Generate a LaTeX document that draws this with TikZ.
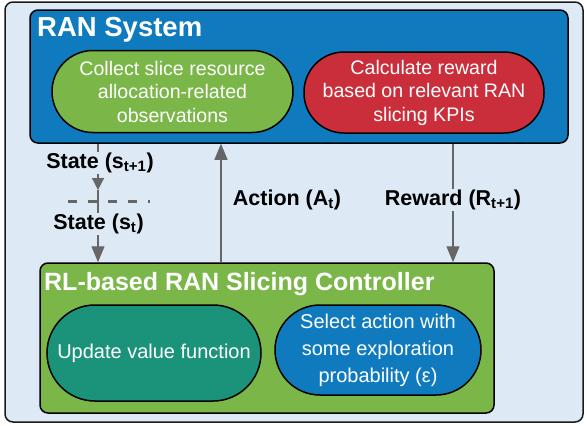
\documentclass[tikz,border=0pt]{standalone}
\usepackage{fontspec}
\setmainfont{Liberation Sans}
\usetikzlibrary{arrows.meta}
\definecolor{bgblue}{HTML}{DDE9F5}
\definecolor{ranblue}{HTML}{0F7BBE}
\definecolor{rlgreen}{HTML}{7AB648}
\definecolor{redbox}{HTML}{CB2E3B}
\definecolor{tealbox}{HTML}{1A937A}
\definecolor{arrowgray}{HTML}{666666}
\definecolor{bordergray}{HTML}{1A1A1A}
\tikzset{
  panel/.style={draw=black, line width=1.5pt, rounded corners=8pt, inner sep=0pt},
  stadium/.style={draw=black, line width=1.5pt, inner sep=0pt, align=center,
     text=white, font=\fontsize{19.6}{23.5}\selectfont},
  titletext/.style={text=white, font=\fontsize{25}{28}\selectfont\bfseries, inner sep=0pt, anchor=west},
  lbl/.style={font=\fontsize{21.5}{24}\selectfont\bfseries, inner sep=1pt, fill=bgblue},
  conn/.style={draw=arrowgray, line width=1.2pt},
  tip/.style={-{Triangle[length=16pt,width=13pt]}},
  smalltip/.style={-{Triangle[length=12pt,width=12pt]}},
}
\begin{document}
\begin{tikzpicture}[x=1pt,y=-1pt]
\useasboundingbox (0,0) rectangle (587,426);
% outer panel
\node[panel, draw=bordergray, fill=bgblue, minimum width=578pt, minimum height=420pt] (outer) at (294,212) {};
% RAN system
\node[panel, fill=ranblue, minimum width=538pt, minimum height=133pt] (ran) at (299,76.5) {};
\node[titletext, font=\fontsize{27.5}{30}\selectfont\bfseries] (rantitle) at (37,30) {RAN System};
\node[stadium, fill=rlgreen, rounded corners=41pt, minimum width=241pt, minimum height=82pt] (collect) at (172.5,91.5)
  {Collect slice resource\\allocation-related\\observations};
\node[stadium, fill=redbox, rounded corners=40pt, minimum width=240pt, minimum height=81pt] (reward) at (424,92.5)
  {Calculate reward\\based on relevant RAN\\slicing KPIs};
% RL controller
\node[panel, fill=rlgreen, minimum width=454pt, minimum height=150pt] (rl) at (267,338) {};
\node[titletext] (rltitle) at (44,284) {RL-based RAN Slicing Controller};
\node[stadium, fill=tealbox, rounded corners=48pt, minimum width=214pt, minimum height=96pt,
  font=\fontsize{20}{27}\selectfont] (update) at (154,353) {Update value function};
\node[stadium, fill=ranblue, rounded corners=45pt, minimum width=206pt, minimum height=90pt,
  font=\fontsize{20}{27}\selectfont] (select) at (378,350)
  {Select action with\\some exploration\\probability (ε)};
% coordinates
\coordinate (st1) at (98,190);
\coordinate (dl) at (68,201);
\coordinate (dr) at (150,201);
\coordinate (actx) at (221,0);
\coordinate (rewx) at (453,0);
\coordinate (stx) at (98,0);
% connectors
\draw[conn, smalltip] (ran.south -| stx) -- (st1);
\draw[conn, tip] (st1) -- (rl.north -| stx);
\draw[draw=arrowgray, line width=3pt, dash pattern=on 9pt off 11pt] (dl) -- (dr);
\draw[conn, tip] (rl.north -| actx) -- (ran.south -| actx);
\draw[conn, tip] (ran.south -| rewx) -- (rl.north -| rewx);
% labels
\node[lbl] (lst1) at (100,163) {State (s\textsubscript{t+1})};
\node[lbl] (lst) at (98.5,224) {State (s\textsubscript{t})};
\node[lbl, fill=none] (lact) at (287,200) {Action (A\textsubscript{t})};
\node[lbl] (lrew) at (453,200) {Reward (R\textsubscript{t+1})};
\end{tikzpicture}
\end{document}
